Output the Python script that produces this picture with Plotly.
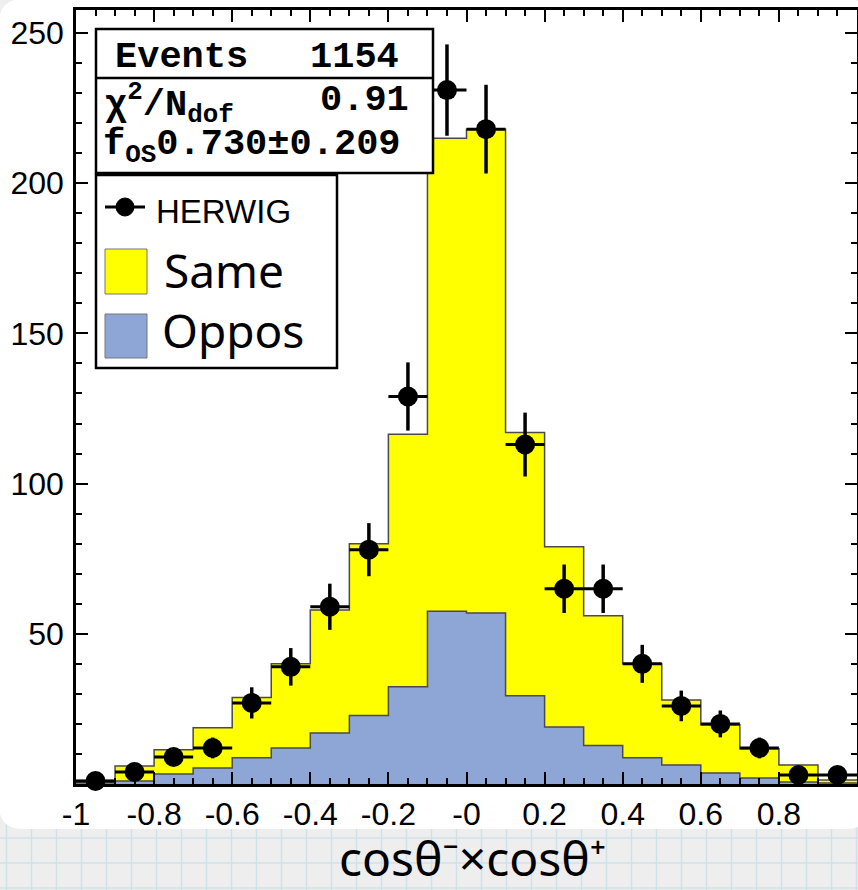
import numpy as np
import plotly.graph_objects as go

# ---------------- data ----------------
bin_edges = [-1.0, -0.9, -0.8, -0.7, -0.6, -0.5, -0.4, -0.3, -0.2, -0.1, 0.0,
             0.1, 0.2, 0.3, 0.4, 0.5, 0.6, 0.7, 0.8, 0.9, 1.0]
bin_centers = [-0.95, -0.85, -0.75, -0.65, -0.55, -0.45, -0.35, -0.25, -0.15, -0.05,
               0.05, 0.15, 0.25, 0.35, 0.45, 0.55, 0.65, 0.75, 0.85, 0.95]
herwig = [1, 4, 9, 12, 27, 39, 59, 78, 129, 231, 218, 113, 65, 65, 40, 26, 20, 12, 3, 3]
same = [0.8, 5.0, 8.1, 13.4, 20.1, 28.0, 40.9, 57.2, 84.0, 157.5,
        161.1, 87.6, 60.0, 43.2, 31.3, 21.7, 16.0, 9.7, 5.6, 1.0]
oppos = [0.4, 1.0, 3.3, 5.3, 8.7, 12.0, 17.0, 22.8, 32.4, 57.5,
         56.9, 29.4, 19.0, 12.8, 8.7, 6.3, 3.7, 2.0, 0.7, 0.3]

x_tickvals = [-1, -0.8, -0.6, -0.4, -0.2, 0, 0.2, 0.4, 0.6, 0.8, 1]
x_ticktext = ["-1", "-0.8", "-0.6", "-0.4", "-0.2", "-0", "0.2", "0.4", "0.6", "0.8", "1"]
y_tickvals = [50, 100, 150, 200, 250]
y_ticktext = ["50", "100", "150", "200", "250"]

events = "1154"
chi2_ndf = "0.91"
f_os = "0.730\u00b10.209"

# ---------------- layout geometry ----------------
W, H = 858, 890
PL, PR, PT, PB = 76, 857, 10, 784
Y_MAX = (PB - PT) / 3.004


def fx(px):
    return (px - PL) / (PR - PL)


def fy(py):
    return (PB - py) / (PB - PT)


YELLOW = "#ffff00"
BLUE = "#8ea6d6"
EDGE = "#4a4a4a"

total = list(np.array(same) + np.array(oppos))
err = list(np.sqrt(np.array(herwig, dtype=float)))
half_width = list(np.diff(bin_edges) / 2)

fig = go.Figure()

# stacked histogram: total (yellow) then oppos (blue)
fig.add_trace(go.Scatter(
    x=bin_edges, y=total + [total[-1]], mode="lines", line_shape="hv",
    fill="tozeroy", fillcolor=YELLOW, line=dict(color=EDGE, width=1.5),
    hoverinfo="skip"))
fig.add_trace(go.Scatter(
    x=bin_edges, y=oppos + [oppos[-1]], mode="lines", line_shape="hv",
    fill="tozeroy", fillcolor=BLUE, line=dict(color=EDGE, width=1.5),
    hoverinfo="skip"))

# HERWIG points
fig.add_trace(go.Scatter(
    x=bin_centers, y=herwig, mode="markers",
    marker=dict(color="black", size=20),
    error_y=dict(type="data", array=err, visible=True, color="black", thickness=3.5, width=0),
    error_x=dict(type="data", array=half_width, visible=True, color="black", thickness=3, width=0),
    cliponaxis=False, hoverinfo="skip"))

# empty trace to create the mirrored (top/right) axes
fig.add_trace(go.Scatter(x=[], y=[], xaxis="x2", yaxis="y2", showlegend=False, hoverinfo="skip"))

shapes = []
# background: graph paper grid below the white panel
for k in range(0, 36):
    gx = 6.5 + 25 * k
    shapes.append(dict(type="line", xref="paper", yref="paper", layer="below",
                       x0=fx(gx), x1=fx(gx), y0=fy(800), y1=fy(H + 5),
                       line=dict(color="#cfe2ea", width=1.5)))
for gy in [838, 863, 888]:
    shapes.append(dict(type="line", xref="paper", yref="paper", layer="below",
                       x0=fx(-5), x1=fx(W + 5), y0=fy(gy), y1=fy(gy),
                       line=dict(color="#cfe2ea", width=1.5)))

# white rounded panel
x0p, x1p, y0p, y1p, r = -1, 870, -1, 829, 24
pts = [
    ("M", x0p + r, y0p), ("L", x1p - r, y0p), ("Q", x1p, y0p, x1p, y0p + r),
    ("L", x1p, y1p - r), ("Q", x1p, y1p, x1p - r, y1p), ("L", x0p + r, y1p),
    ("Q", x0p, y1p, x0p, y1p - r), ("L", x0p, y0p + r), ("Q", x0p, y0p, x0p + r, y0p),
]
path = ""
for p in pts:
    if p[0] == "Q":
        path += "Q{:.5f},{:.5f} {:.5f},{:.5f} ".format(fx(p[1]), fy(p[2]), fx(p[3]), fy(p[4]))
    else:
        path += "{}{:.5f},{:.5f} ".format(p[0], fx(p[1]), fy(p[2]))
path += "Z"
shapes.append(dict(type="path", xref="paper", yref="paper", layer="below", path=path,
                   fillcolor="white", line=dict(width=0)))

# stats box
shapes.append(dict(type="rect", xref="paper", yref="paper", layer="above",
                   x0=fx(96), x1=fx(433), y0=fy(29), y1=fy(173),
                   fillcolor="white", line=dict(color="black", width=2.5)))
shapes.append(dict(type="line", xref="paper", yref="paper", layer="above",
                   x0=fx(96), x1=fx(433), y0=fy(78), y1=fy(78),
                   line=dict(color="black", width=2.5)))
# legend box
shapes.append(dict(type="rect", xref="paper", yref="paper", layer="above",
                   x0=fx(96), x1=fx(337), y0=fy(175), y1=fy(368),
                   fillcolor="white", line=dict(color="black", width=2.5)))
# legend symbols
shapes.append(dict(type="line", xref="paper", yref="paper", layer="above",
                   x0=fx(105), x1=fx(145), y0=fy(207), y1=fy(207),
                   line=dict(color="black", width=3)))
shapes.append(dict(type="circle", xref="paper", yref="paper", layer="above",
                   x0=fx(116), x1=fx(134), y0=fy(216), y1=fy(198),
                   fillcolor="black", line=dict(color="black", width=1)))
shapes.append(dict(type="rect", xref="paper", yref="paper", layer="above",
                   x0=fx(105), x1=fx(147), y0=fy(249), y1=fy(294),
                   fillcolor=YELLOW, line=dict(color="#777777", width=1)))
shapes.append(dict(type="rect", xref="paper", yref="paper", layer="above",
                   x0=fx(105), x1=fx(147), y0=fy(314), y1=fy(358),
                   fillcolor=BLUE, line=dict(color="#777777", width=1)))

MONO = dict(family="Liberation Mono, Courier New, monospace", size=37, color="black")
SANS = dict(family="Liberation Sans, Arial, sans-serif", size=33, color="black")
HAND = dict(family="Noto Sans, sans-serif", size=46, color="black")


def ann(text, px, py, font, xanchor="left"):
    return dict(text=text, x=fx(px), y=fy(py), xref="paper", yref="paper",
                xanchor=xanchor, yanchor="middle", showarrow=False, font=font)


annotations = [
    ann("<b>Events</b>", 113, 57, MONO),
    ann("<b>" + events + "</b>", 401, 57, MONO, "right"),
    ann("<b>\u03c7<sup>2</sup>/N<sub>dof</sub></b>", 103, 103, MONO),
    ann("<b>" + chi2_ndf + "</b>", 411, 100, MONO, "right"),
    ann("<b>f<sub>OS</sub>" + f_os + "</b>", 101, 146, MONO),
    ann("HERWIG", 154, 211, SANS),
    ann("Same", 162, 270, HAND),
    ann("Oppos", 160, 330, HAND),
    ann("cos\u03b8\u207b\u00d7cos\u03b8\u207a", 472, 857,
        dict(family="Noto Sans, sans-serif", size=48, color="black"), "center"),
]

TICKFONT = dict(family="Liberation Sans, Arial, sans-serif", size=32, color="black")
axis_common = dict(
    showline=True, linecolor="black", linewidth=2.5,
    ticks="inside", tickcolor="black", tickwidth=2, ticklen=12,
    showgrid=False, zeroline=False, tickfont=TICKFONT, tickmode="array",
)
xminor = dict(dtick=0.05, tick0=-1, ticks="inside", ticklen=6, tickwidth=1.5,
              tickcolor="black", showgrid=False)
yminor = dict(dtick=10, tick0=0, ticks="inside", ticklen=6, tickwidth=1.5,
              tickcolor="black", showgrid=False)

fig.update_layout(
    width=W, height=H,
    margin=dict(l=PL, r=W - PR, t=PT, b=H - PB),
    paper_bgcolor="#eeeeee", plot_bgcolor="white",
    showlegend=False, hovermode=False,
    shapes=shapes, annotations=annotations,
    xaxis=dict(range=[-1, 1], tickvals=x_tickvals, ticktext=x_ticktext, minor=xminor,
               **axis_common),
    yaxis=dict(range=[0, Y_MAX], tickvals=y_tickvals, ticktext=y_ticktext, minor=yminor,
               ticklabelstandoff=3, **axis_common),
    xaxis2=dict(range=[-1, 1], overlaying="x", side="top", tickvals=x_tickvals,
                showticklabels=False, minor=xminor, **axis_common),
    yaxis2=dict(range=[0, Y_MAX], overlaying="y", side="right", tickvals=y_tickvals,
                showticklabels=False, minor=yminor, **axis_common),
)

fig.write_html("out.html")
